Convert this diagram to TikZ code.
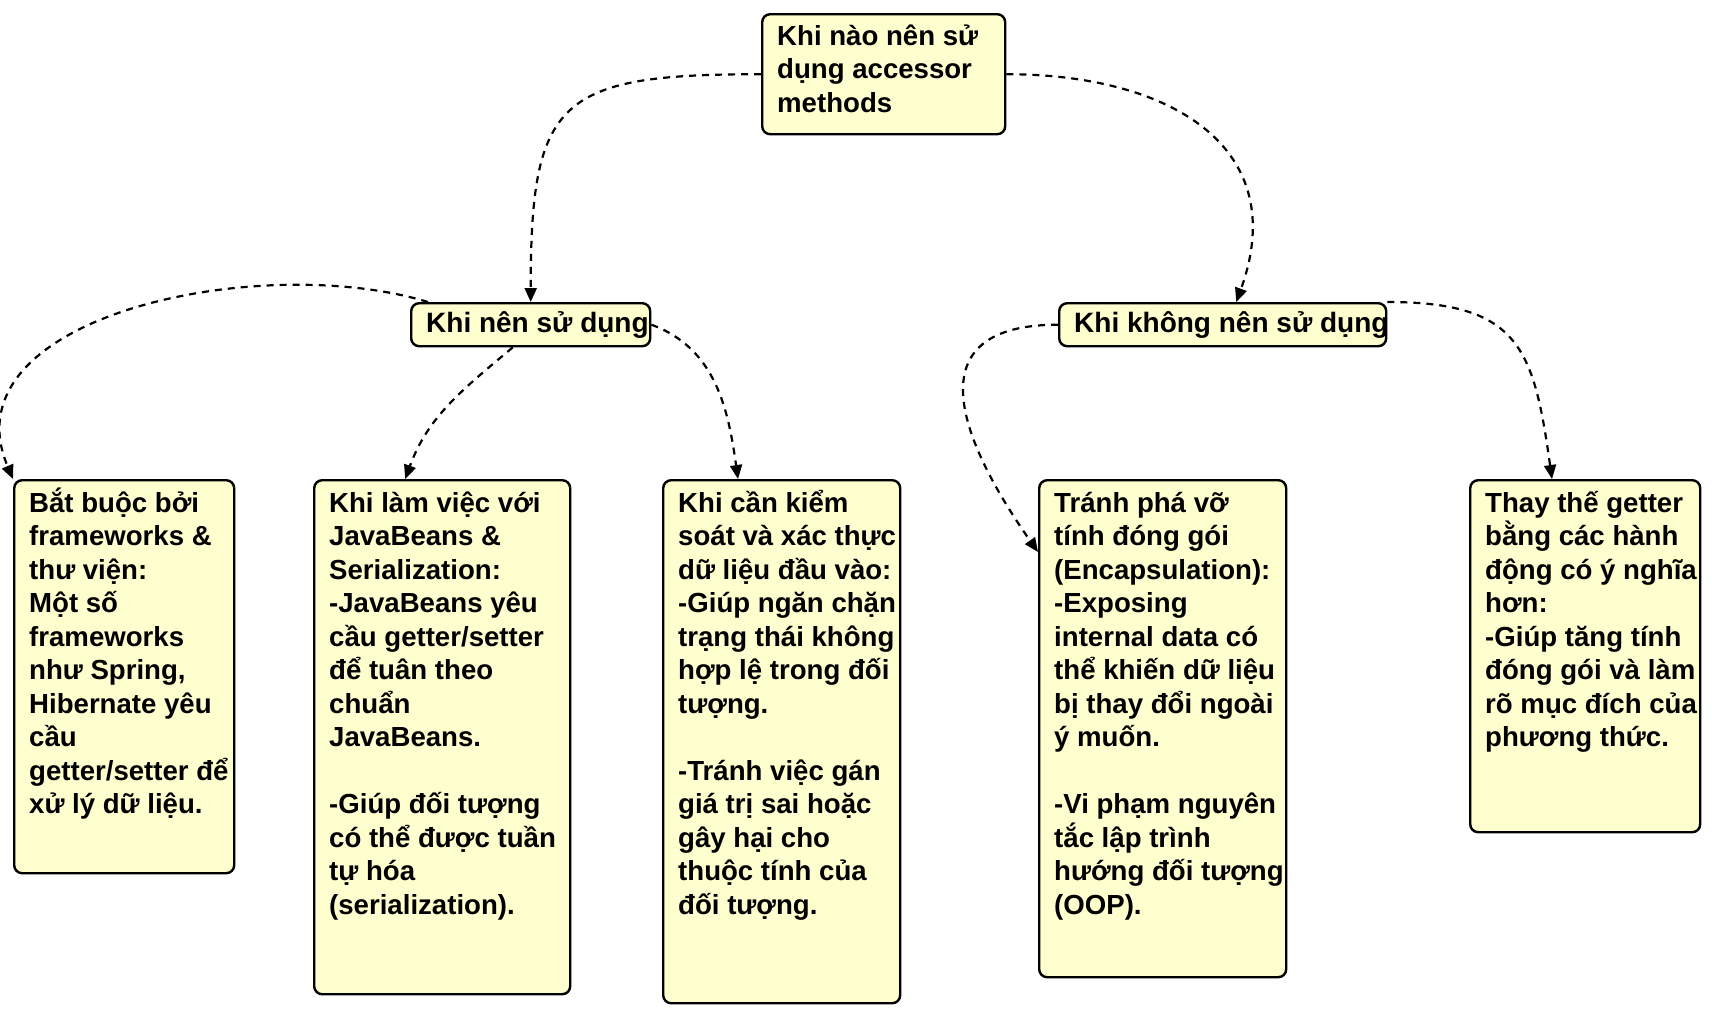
\documentclass[tikz,border=0pt]{standalone}
\usepackage{fontspec}
\setmainfont{Liberation Sans}
\usetikzlibrary{arrows.meta}
\definecolor{notefill}{HTML}{FEFECE}
\newcommand{\cardtext}[4][16pt]{\begin{minipage}[t][#3][t]{#2}\raggedright\leftskip=7.5pt\rightskip=-30pt plus 1fil\rule{0pt}{#1}#4\end{minipage}}
\begin{document}
\begin{tikzpicture}[x=0.5pt,y=0.5pt,
    card/.style={draw, line width=1.2pt, rounded corners=4pt, fill=notefill, inner sep=0pt,
      anchor=north west, font=\fontsize{13.8}{16.75}\selectfont\bfseries},
    label card/.style={card, font=\fontsize{14}{16.75}\selectfont\bfseries},
    link/.style={line width=1.1pt, dash pattern=on 3.5pt off 3pt, -{Triangle[length=7pt,width=6pt]}}]
    \useasboundingbox (0,0) rectangle (1712,-1014);
    % root and the two branches
    \node[card] (top) at (761,-13) {\cardtext[15.5pt]{121.5pt}{60pt}{Khi nào nên sử\\dụng accessor\\methods}};
    \node[label card] (n1) at (410,-302) {\cardtext[14.5pt]{119.5pt}{21.5pt}{Khi nên sử dụng}};
    \node[label card] (n2) at (1058,-302) {\cardtext[14.5pt]{163.5pt}{21.5pt}{Khi không nên sử dụng}};
    % leaves
    \node[card] (b1) at (13,-479) {\cardtext{110pt}{196.5pt}{Bắt buộc bởi\\frameworks \&\\thư viện:\\Một số\\frameworks\\như Spring,\\Hibernate yêu\\cầu\\getter/setter để\\xử lý dữ liệu.}};
    \node[card] (b2) at (313,-479) {\cardtext{128pt}{257pt}{Khi làm việc với\\JavaBeans \&\\Serialization:\\-JavaBeans yêu\\cầu getter/setter\\để tuân theo\\chuẩn\\JavaBeans.\\[\baselineskip]-Giúp đối tượng\\có thể được tuần\\tự hóa\\(serialization).}};
    \node[card] (b3) at (662,-479) {\cardtext{118.5pt}{261.5pt}{Khi cần kiểm\\soát và xác thực\\dữ liệu đầu vào:\\-Giúp ngăn chặn\\trạng thái không\\hợp lệ trong đối\\tượng.\\[\baselineskip]-Tránh việc gán\\giá trị sai hoặc\\gây hại cho\\thuộc tính của\\đối tượng.}};
    \node[card] (b4) at (1038,-479) {\cardtext{123.5pt}{248.5pt}{Tránh phá vỡ\\tính đóng gói\\(Encapsulation):\\-Exposing\\internal data có\\thể khiến dữ liệu\\bị thay đổi ngoài\\ý muốn.\\[\baselineskip]-Vi phạm nguyên\\tắc lập trình\\hướng đối tượng\\(OOP).}};
    \node[card] (b5) at (1469,-479) {\cardtext{115pt}{176pt}{Thay thế getter\\bằng các hành\\động có ý nghĩa\\hơn:\\-Giúp tăng tính\\đóng gói và làm\\rõ mục đích của\\phương thức.}};
    % dashed links
    \draw[link] (top.west) to[out=180,in=90,looseness=1.6] (n1.north);
    \draw[link] (top.east) to[out=0,in=70,looseness=1.3] ([xshift=6.75pt]n2.north);
    \draw[link] ([xshift=9pt]n1.north west) to[out=163,in=113] (b1.north west);
    \draw[link] ([xshift=-9pt]n1.south) to[out=220,in=70] ([xshift=-18.5pt]b2.north);
    \draw[link] (n1.east) to[out=-20,in=98] ([xshift=38pt]b3.north west);
    \draw[link] (n2.west) to[out=180,in=125,looseness=1.6] ([yshift=-36.5pt]b4.north west);
    \draw[link] (n2.north east) to[out=0,in=98,looseness=1.4] ([xshift=41.5pt]b5.north west);
\end{tikzpicture}
\end{document}
